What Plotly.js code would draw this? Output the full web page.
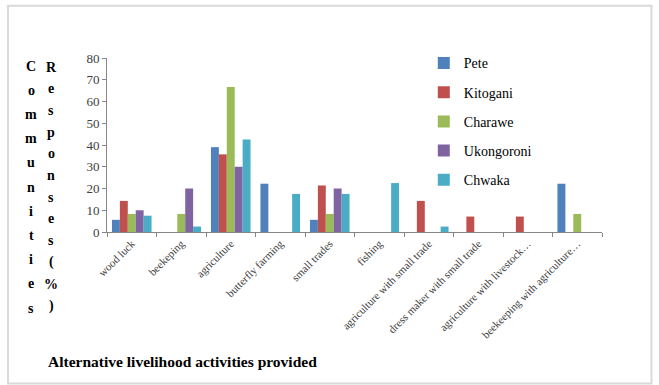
<!DOCTYPE html>
<html><head><meta charset="utf-8">
<script src="https://cdn.plot.ly/plotly-3.0.1.min.js"></script>
<style>html,body{margin:0;padding:0;background:#fff}#c{width:659px;height:385px}</style>
</head><body><div id="c"></div>
<script>
const categories = ["wood luck","beekeping","agriculture","butterfly farming","small trades","fishing","agriculture with small trade","dress maker with small trade","agriculture with livestock…","beekeeping with agriculture…"];
const seriesNames = ["Pete","Kitogani","Charawe","Ukongoroni","Chwaka"];
const pete       = [5.6, 0, 39, 22.2, 5.6, 0, 0, 0, 0, 22.2];
const kitogani   = [14.3, 0, 35.7, 0, 21.4, 0, 14.3, 7.1, 7.1, 0];
const charawe    = [8.3, 8.3, 66.7, 0, 8.3, 0, 0, 0, 0, 8.3];
const ukongoroni = [10, 20, 30, 0, 20, 0, 0, 0, 0, 0];
const chwaka     = [7.5, 2.5, 42.5, 17.5, 17.5, 22.5, 2.5, 0, 0, 0];
const tickVals = [0,10,20,30,40,50,60,70,80];
const yTitleA = "Communities";
const yTitleB = "Responses(%)";
const xTitle = "Alternative livelihood activities provided";
const colors = ["#4f81bd","#c0504d","#9bbb59","#8064a2","#4bacc6"];
const serif = "Times New Roman";

const allSeries = [pete, kitogani, charawe, ukongoroni, chwaka];
const traces = allSeries.map((vals, i) => ({
  type: "bar", name: seriesNames[i], x: categories, y: vals,
  marker: {color: colors[i]}, legendgroup: "g" + i
}));

const annotations = [];
function stack(str, xpx, ytop, step) {
  str.split("").forEach((ch, k) => {
    annotations.push({text: "<b>" + ch + "</b>", xref: "paper", yref: "paper",
      x: (xpx - 107) / 495, y: (232 - (ytop + k * step)) / 174,
      xanchor: "center", yanchor: "middle", showarrow: false,
      font: {family: serif, size: 14, color: "#000"}});
  });
}
stack(yTitleA, 31, 66, 24.2);
stack(yTitleB, 51, 67, 21.7);
annotations.push({text: "<b>" + xTitle + "</b>", xref: "paper", yref: "paper",
  x: (46 - 107) / 495, y: (232 - 361) / 174, xanchor: "left", yanchor: "middle", showarrow: false,
  font: {family: serif, size: 15.5, color: "#000"}});

const layout = {
  width: 659, height: 385,
  margin: {l: 107, r: 57, t: 58, b: 153},
  paper_bgcolor: "#fff", plot_bgcolor: "#fff",
  barmode: "group", bargap: 0.2, bargroupgap: 0,
  font: {family: serif, color: "#404040"},
  xaxis: {
    type: "category", tickangle: -45, tickfont: {family: serif, size: 11, color: "#404040"},
    showline: true, linecolor: "#868686", linewidth: 1, ticks: "outside", tickson: "boundaries",
    ticklen: 4, tickcolor: "#868686", showgrid: false, zeroline: false
  },
  yaxis: {
    range: [0, 80], tickvals: tickVals, ticks: "outside", ticklen: 4, tickcolor: "#868686",
    showline: true, linecolor: "#868686", linewidth: 1, showgrid: false, zeroline: false,
    tickfont: {family: serif, size: 13, color: "#404040"}
  },
  legend: {
    x: 0.64, y: 1.061, xanchor: "left", yanchor: "top",
    font: {family: serif, size: 14, color: "#000"},
    tracegroupgap: 8, bgcolor: "rgba(0,0,0,0)", itemwidth: 30
  },
  annotations: annotations,
  shapes: [
    {type: "rect", xref: "paper", yref: "paper", x0: -0.2, x1: 1.1, y0: -0.87, y1: 1.3,
     line: {color: "#d9d9d9", width: 2}}
  ]
};
Plotly.newPlot("c", traces, layout, {displayModeBar: false, staticPlot: true});
</script></body></html>
